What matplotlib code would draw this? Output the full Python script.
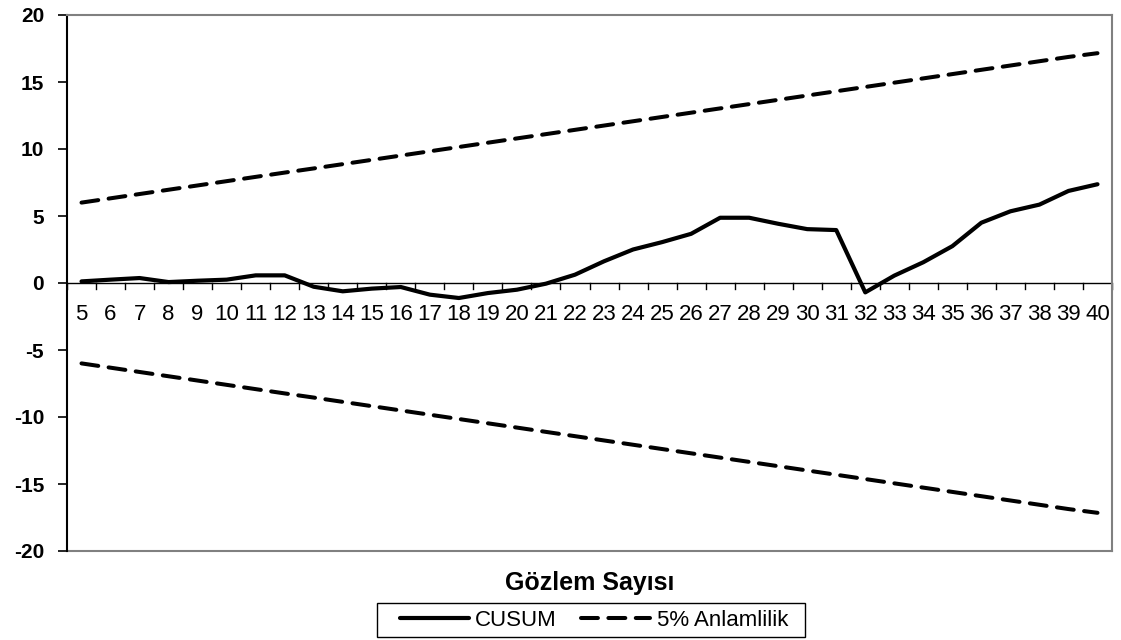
import matplotlib
matplotlib.use("Agg")
import matplotlib.pyplot as plt
from matplotlib.patches import Rectangle
import numpy as np

plt.rcParams['font.family'] = ['Liberation Sans', 'DejaVu Sans']

obs = list(range(5, 41))
cusum = [0.12, 0.25, 0.37, 0.07, 0.17, 0.25, 0.57, 0.57, -0.28, -0.62,
         -0.42, -0.30, -0.87, -1.12, -0.75, -0.50, -0.05, 0.62, 1.62, 2.50,
         3.05, 3.67, 4.87, 4.87, 4.42, 4.02, 3.95, -0.70, 0.55, 1.55,
         2.75, 4.50, 5.35, 5.85, 6.87, 7.37]
upper = [6.00, 6.32, 6.64, 6.96, 7.28, 7.60, 7.92, 8.24, 8.55, 8.87,
         9.19, 9.51, 9.83, 10.15, 10.47, 10.79, 11.11, 11.43, 11.75, 12.07,
         12.39, 12.71, 13.03, 13.35, 13.67, 13.99, 14.31, 14.63, 14.95, 15.27,
         15.59, 15.91, 16.23, 16.55, 16.87, 17.15]
lower = [-6.00, -6.32, -6.64, -6.96, -7.28, -7.60, -7.92, -8.24, -8.55, -8.87,
         -9.19, -9.51, -9.83, -10.15, -10.47, -10.79, -11.11, -11.43, -11.75, -12.07,
         -12.39, -12.71, -13.03, -13.35, -13.67, -13.99, -14.31, -14.63, -14.95, -15.27,
         -15.59, -15.91, -16.23, -16.55, -16.87, -17.15]
x_labels = [str(o) for o in obs]
y_ticks = [-20, -15, -10, -5, 0, 5, 10, 15, 20]

W, H = 1121, 640
fig = plt.figure(figsize=(W / 100, H / 100), dpi=100)
ax = fig.add_axes([67 / W, 1 - 551 / H, (1112 - 67) / W, (551 - 15) / H])

x = np.arange(len(obs))
dash = (0, (4.2, 2.6))
ax.plot(x, cusum, color='black', lw=3.0, solid_capstyle='round',
        solid_joinstyle='round', label='CUSUM', zorder=3)
ax.plot(x, upper, color='black', lw=2.9, linestyle=dash, dash_capstyle='round',
        label='5% Anlamlilik', zorder=3)
ax.plot(x, lower, color='black', lw=2.9, linestyle=dash, dash_capstyle='round',
        zorder=3)

ax.set_xlim(-0.5, len(obs) - 0.5)
ax.set_ylim(-20, 20)

# spines
ax.spines['left'].set_color('black')
ax.spines['left'].set_linewidth(1.5)
for s in ['top', 'right']:
    ax.spines[s].set_color('#808080')
    ax.spines[s].set_linewidth(1.5)
ax.spines['bottom'].set_visible(False)
ax.axhline(0, color='black', lw=1.0, zorder=2)
ax.plot([-0.5, len(obs) - 0.5], [-20, -20], color='#808080', lw=1.5,
        clip_on=False, zorder=2)

# y ticks
ax.set_yticks(y_ticks)
ax.set_yticklabels([str(v) for v in y_ticks], fontsize=15, fontweight='bold')
ax.tick_params(axis='y', direction='out', length=6.5, width=1.2, pad=10)

# x ticks: labels at category centers, marks between categories
ax.set_xticks([])
ax.tick_params(axis='x', which='both', bottom=False, labelbottom=False)
for xi in np.arange(-0.5, len(obs), 1.0):
    ax.plot([xi, xi], [0, -0.45], color='black', lw=1.0, zorder=2, clip_on=False)
for xi, lab in zip(x, x_labels):
    ax.text(xi, -1.55, lab, ha='center', va='top', fontsize=16)

fig.text(590 / W, 1 - 583 / H, 'Gözlem Sayısı', ha='center', va='center',
         fontsize=18, fontweight='bold')

# legend box (Excel style, with extra inner padding)
fig.patches.append(Rectangle((377 / W, 1 - 637 / H), (805 - 377) / W, 34 / H,
                             transform=fig.transFigure, facecolor='white',
                             edgecolor='black', linewidth=1.0, zorder=1))
leg = fig.legend(loc='center', bbox_to_anchor=(594 / W, 1 - 620 / H), ncol=2,
                 fontsize=16, frameon=False, borderpad=0.2,
                 handlelength=3.1, handletextpad=0.3, columnspacing=1.1,
                 borderaxespad=0)
leg.set_zorder(5)

fig.savefig('out.png', dpi=100)
